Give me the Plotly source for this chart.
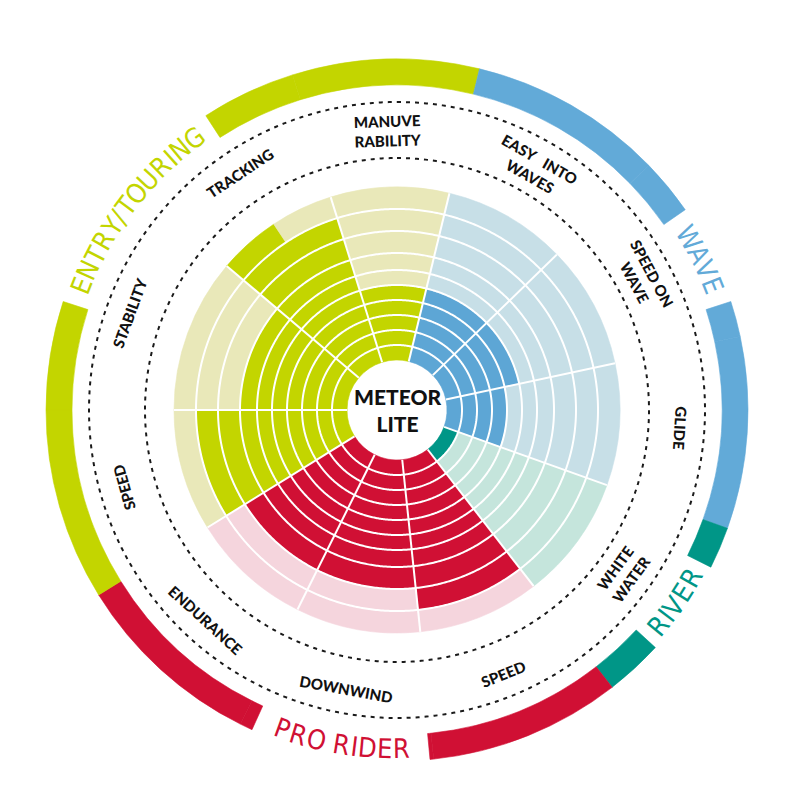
import math
import plotly.graph_objects as go

# ---------------- data ----------------
criteria = ["MANUVE<br>RABILITY", "EASY\u00a0\u00a0\u00a0INTO<br>WAVES", "SPEED ON<br>WAVE", "GLIDE",
            "WHITE<br>WATER", "SPEED", "DOWNWIND", "ENDURANCE", "SPEED", "STABILITY", "TRACKING"]
scores = [5, 5, 5, 4, 1, 9, 8, 8, 9, 7, 9.5]
max_score = 10
sector_span = [30.9, 32.2, 32.1, 31.8, 32.5, 31.8, 32.5, 31.7, 31.8, 40.2, 32.5]  # degrees
sector_group = ["ENTRY/TOURING", "WAVE", "WAVE", "WAVE", "RIVER", "PRO RIDER", "PRO RIDER",
                "PRO RIDER", "ENTRY/TOURING", "ENTRY/TOURING", "ENTRY/TOURING"]
groups = ["ENTRY/TOURING", "WAVE", "RIVER", "PRO RIDER"]
product = "METEOR<br>LITE"

# ---------------- style / layout constants ----------------
dark = {"ENTRY/TOURING": "#c3d500", "WAVE": "#5da6d5", "RIVER": "#009687", "PRO RIDER": "#d01034"}
light = {"ENTRY/TOURING": "#e9e8b9", "WAVE": "#c7dfe7", "RIVER": "#c5e5dc", "PRO RIDER": "#f5d5dd"}
band_color = {"ENTRY/TOURING": "#c3d500", "WAVE": "#62aad8", "RIVER": "#009687", "PRO RIDER": "#d01034"}
label_gap = {"ENTRY/TOURING": (307.5, 19.5), "WAVE": (63.6, 8.4),
             "RIVER": (124.6, 8.0), "PRO RIDER": (189.5, 14.9)}

START = -17.3
RING_EDGES = [50, 65, 80, 95, 110, 125, 140, 157, 179, 201, 223]
BAND_BASE, BAND_W, BAND_TEXT_R = 325, 26, 339
DASH_R = [252, 308]
LABEL_R1, LABEL_R2 = 284, 279

W, H = 800, 800
CX, CY = 389, 402          # figure-pixel centre of the wheel (page adds 8px body margin)
RD = 385                   # polar radius in px (1 radial unit = 1 px)


def to_paper(r, th):
    t = math.radians(th)
    return (CX + r * math.sin(t)) / W, (H - (CY - r * math.cos(t))) / H


def norm180(a):
    a = a % 360
    return a - 360 if a > 180 else a


def flipped(a):
    a = a % 360
    return 95 < a < 245


# sector start angles
starts = []
a = START
for s in sector_span:
    starts.append(a)
    a += s

# ---------------- wedge cells ----------------
th, wd, bs, rr, col = [], [], [], [], []


def add_cell(center, width, base, thick, c):
    th.append(center); wd.append(width); bs.append(base); rr.append(thick); col.append(c)


for i, sc in enumerate(scores):
    s0, span, g = starts[i], sector_span[i], sector_group[i]
    full = int(math.floor(sc))
    frac = sc - full
    for k in range(max_score):
        b = RING_EDGES[k]
        t = RING_EDGES[k + 1] - RING_EDGES[k]
        if k < full:
            add_cell(s0 + span / 2, span, b, t, dark[g])
        elif k == full and frac > 0:
            add_cell(s0 + span * frac / 2, span * frac, b, t, dark[g])
            add_cell(s0 + span * frac + span * (1 - frac) / 2, span * (1 - frac), b, t, light[g])
        else:
            add_cell(s0 + span / 2, span, b, t, light[g])

fig = go.Figure()
fig.add_trace(go.Barpolar(theta=th, width=wd, base=bs, r=rr,
                          marker=dict(color=col, line=dict(color=col, width=0.6)),
                          hoverinfo="skip"))

# ---------------- outer category band ----------------
bth, bwd, bcol = [], [], []
for i in range(len(scores)):
    s, e = starts[i], starts[i] + sector_span[i]
    g = sector_group[i]
    c, h = label_gap[g]
    pieces = [(s, e)]
    for shift in (-360, 0, 360):
        gs, ge = c - h + shift, c + h + shift
        newp = []
        for (ps, pe) in pieces:
            if ge <= ps or gs >= pe:
                newp.append((ps, pe))
            else:
                if gs > ps:
                    newp.append((ps, gs))
                if ge < pe:
                    newp.append((ge, pe))
        pieces = newp
    for (ps, pe) in pieces:
        bth.append((ps + pe) / 2); bwd.append(pe - ps); bcol.append(band_color[g])

fig.add_trace(go.Barpolar(theta=bth, width=bwd, base=[BAND_BASE] * len(bth), r=[BAND_W] * len(bth),
                          marker=dict(color=bcol, line=dict(color=bcol, width=0.6)),
                          hoverinfo="skip"))

# ---------------- white grid lines ----------------
gr, gt = [], []
circle = [x * 0.5 for x in range(0, 721)]
for re_ in RING_EDGES[1:-1]:
    gr += [re_] * len(circle) + [None]
    gt += circle + [None]
for s in starts:
    gr += [RING_EDGES[0], RING_EDGES[-1], None]
    gt += [s, s, None]
fig.add_trace(go.Scatterpolar(r=gr, theta=gt, mode="lines", connectgaps=False,
                              line=dict(color="white", width=2), hoverinfo="skip"))

# ---------------- dashed circles ----------------
for dr in DASH_R:
    fig.add_trace(go.Scatterpolar(r=[dr] * len(circle), theta=circle, mode="lines",
                                  line=dict(color="#1a1a1a", width=2, dash="4px,5px"),
                                  hoverinfo="skip"))

annotations = []

# ---------------- criterion labels ----------------
for i, name in enumerate(criteria):
    mid = starts[i] + sector_span[i] / 2
    r = LABEL_R2 if "<br>" in name else LABEL_R1
    x, y = to_paper(r, mid)
    ang = norm180(mid - 180) if flipped(mid) else norm180(mid)
    annotations.append(dict(x=x, y=y, xref="paper", yref="paper", text=name, showarrow=False,
                            textangle=ang, xanchor="center", yanchor="middle", align="center",
                            font=dict(family="Lato, Open Sans, sans-serif", size=15,
                                      color="#111111", weight=900)))

# ---------------- curved category titles ----------------
CHAR_W = {"E": 16.4, "N": 17.8, "T": 15.0, "R": 17.8, "Y": 16.4, "/": 8.0, "O": 19.1,
          "U": 17.8, "I": 7.5, "G": 19.1, "W": 23.2, "A": 16.4, "V": 16.4, "P": 16.4,
          "D": 17.8, " ": 8.0}
for g in groups:
    c, h = label_gap[g]
    ws = [CHAR_W.get(ch, 16.0) for ch in g]
    total = sum(ws)
    pos = 0.0
    flip = flipped(c)
    for ch, w_ in zip(g, ws):
        off = math.degrees((pos + w_ / 2 - total / 2) / BAND_TEXT_R)
        pos += w_
        if ch == " ":
            continue
        ang_c = c - off if flip else c + off
        x, y = to_paper(BAND_TEXT_R, ang_c)
        ta = norm180(ang_c - 180) if flip else norm180(ang_c)
        annotations.append(dict(x=x, y=y, xref="paper", yref="paper", text=ch, showarrow=False,
                                textangle=ta, xanchor="center", yanchor="middle",
                                font=dict(family="Liberation Sans Narrow, DejaVu Sans Condensed, Roboto",
                                          size=27, color=band_color[g], weight=300)))

# ---------------- centre title ----------------
annotations.append(dict(x=CX / W, y=(H - CY) / H, xref="paper", yref="paper", text=product,
                        showarrow=False, xanchor="center", yanchor="middle", align="center",
                        font=dict(family="Lato, Open Sans, sans-serif", size=21,
                                  color="#111111", weight=900)))

fig.update_layout(
    width=W, height=H,
    margin=dict(l=0, r=0, t=0, b=0),
    paper_bgcolor="white",
    showlegend=False,
    annotations=annotations,
    polar=dict(
        domain=dict(x=[(CX - RD) / W, (CX + RD) / W], y=[(H - CY - RD) / H, (H - CY + RD) / H]),
        bgcolor="white",
        barmode="overlay",
        bargap=0,
        radialaxis=dict(range=[0, RD], visible=False),
        angularaxis=dict(rotation=90, direction="clockwise", visible=False),
    ),
)

fig.write_html("out.html")
